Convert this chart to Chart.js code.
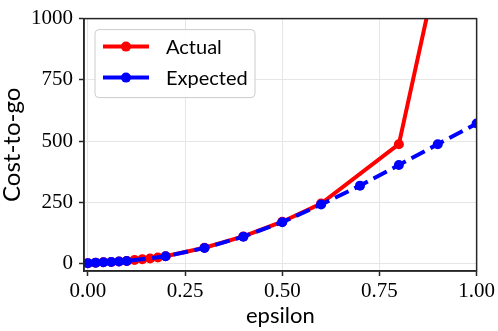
<!DOCTYPE html>
<html><head><meta charset="utf-8">
<script src="https://cdn.jsdelivr.net/npm/chart.js@4/dist/chart.umd.min.js"></script>
<style>html,body{margin:0;padding:0;background:#fff;} #wrap{width:498px;height:331px;}</style>
</head><body><div id="wrap"><canvas id="c" width="498" height="331"></canvas></div>
<script>
// ---- data ----
const seriesNames = ['Actual', 'Expected'];
const epsActual   = [0, 0.02, 0.04, 0.06, 0.08, 0.1, 0.12, 0.14, 0.16, 0.18, 0.2, 0.3, 0.4, 0.5, 0.6, 0.8, 0.9, 1.0];
const actualCost  = [3, 5, 7, 8, 10, 12, 16, 19, 22, 26, 31, 66, 112, 172, 246, 488, 1210, 2000];
const epsExpected = [0, 0.02, 0.04, 0.06, 0.08, 0.1, 0.2, 0.3, 0.4, 0.5, 0.6, 0.7, 0.8, 0.9, 1.0];
const expectedCost= [3, 5, 7, 8, 10, 12, 31, 65, 111, 170, 242, 319, 403, 488, 572];
const xTickValues = [0, 0.25, 0.5, 0.75, 1.0];
const yTickValues = [0, 250, 500, 750, 1000];
const xTitle = 'epsilon';
const yTitle = 'Cost-to-go';

const toPts = (xs, ys) => xs.map((x, i) => ({x: x, y: ys[i]}));

const TICK_FONT = {family: 'Liberation Serif', size: 21};
const X_TITLE_FONT = {family: 'Lato', size: 22, lineHeight: 1.0};
const Y_TITLE_FONT = {family: 'Lato', size: 24, lineHeight: 1.0};
const LEGEND_FONT = '20px Lato';

const framePlugin = {
  id: 'frameLegend',
  afterDatasetsDraw(chart) {
    const {ctx, chartArea: a} = chart;
    ctx.save();
    ctx.strokeStyle = '#262626';
    ctx.lineWidth = 1.5;
    ctx.strokeRect(a.left, a.top, a.right - a.left, a.bottom - a.top);
    ctx.restore();
  },
  afterDraw(chart) {
    const {ctx, chartArea: a} = chart;
    const bx = a.left + 11, by = a.top + 11, bw = 160, bh = 68, r = 4;
    ctx.save();
    ctx.beginPath();
    ctx.moveTo(bx + r, by);
    ctx.arcTo(bx + bw, by, bx + bw, by + bh, r);
    ctx.arcTo(bx + bw, by + bh, bx, by + bh, r);
    ctx.arcTo(bx, by + bh, bx, by, r);
    ctx.arcTo(bx, by, bx + bw, by, r);
    ctx.closePath();
    ctx.fillStyle = 'rgba(255,255,255,0.85)';
    ctx.fill();
    ctx.strokeStyle = '#cccccc';
    ctx.lineWidth = 1;
    ctx.stroke();
    const rows = [by + 17, by + 48];
    chart.data.datasets.slice().sort((p, q) => seriesNames.indexOf(p.label) - seriesNames.indexOf(q.label)).forEach((ds, i) => {
      const y = rows[i];
      ctx.strokeStyle = ds.borderColor;
      ctx.lineWidth = 4;
      ctx.lineCap = 'butt';
      ctx.beginPath();
      ctx.moveTo(bx + 8, y);
      ctx.lineTo(bx + 54, y);
      ctx.stroke();
      ctx.fillStyle = ds.borderColor;
      ctx.beginPath();
      ctx.arc(bx + 31, y, 5, 0, Math.PI * 2);
      ctx.fill();
      ctx.fillStyle = '#000';
      ctx.font = LEGEND_FONT;
      ctx.textBaseline = 'middle';
      ctx.textAlign = 'left';
      ctx.fillText(ds.label, bx + 71, y + 1);
    });
    ctx.restore();
  }
};

new Chart(document.getElementById('c'), {
  type: 'scatter',
  data: {
    datasets: [
      {
        label: seriesNames[0], data: toPts(epsActual, actualCost),
        showLine: true, borderColor: '#ff0000', backgroundColor: '#ff0000',
        borderWidth: 4, pointRadius: 5, pointBorderWidth: 0, pointHoverRadius: 5,
        order: 2, clip: 0
      },
      {
        label: seriesNames[1], data: toPts(epsExpected, expectedCost),
        showLine: true, borderColor: '#0000ff', backgroundColor: '#0000ff',
        borderWidth: 4, borderDash: [15, 6.5], pointRadius: 5, pointBorderWidth: 0, pointHoverRadius: 5,
        order: 1, clip: 0
      }
    ]
  },
  options: {
    responsive: false, animation: false, devicePixelRatio: 1,
    layout: {padding: {top: 9, right: 21, left: 0, bottom: 0}},
    plugins: {legend: {display: false}, tooltip: {enabled: false}},
    scales: {
      x: {
        type: 'linear', min: -0.01, max: 1.0,
        afterBuildTicks: s => { s.ticks = xTickValues.map(v => ({value: v})); },
        afterFit: s => { s.height = 60; },
        grid: {color: '#e6e6e6', lineWidth: 1, drawTicks: true, tickLength: 5, tickColor: '#262626', tickWidth: 1.5},
        border: {color: '#262626', width: 1.5},
        ticks: {font: TICK_FONT, color: '#000', padding: 3, maxRotation: 0, autoSkip: false,
                callback: v => Number(v).toFixed(2)},
        title: {display: true, text: xTitle, font: X_TITLE_FONT, color: '#000', padding: {top: 0, bottom: 4}}
      },
      y: {
        type: 'linear', min: -29, max: 1000,
        afterBuildTicks: s => { s.ticks = yTickValues.map(v => ({value: v})); },
        afterFit: s => { s.width = 84; },
        grid: {color: '#e6e6e6', lineWidth: 1, drawTicks: true, tickLength: 5, tickColor: '#262626', tickWidth: 1.5},
        border: {color: '#262626', width: 1.5},
        ticks: {font: TICK_FONT, color: '#000', padding: 6, autoSkip: false,
                callback: v => String(v)},
        title: {display: true, text: yTitle, font: Y_TITLE_FONT, color: '#000', padding: {top: 0, bottom: 0}}
      }
    }
  },
  plugins: [framePlugin]
});
</script></body></html>
